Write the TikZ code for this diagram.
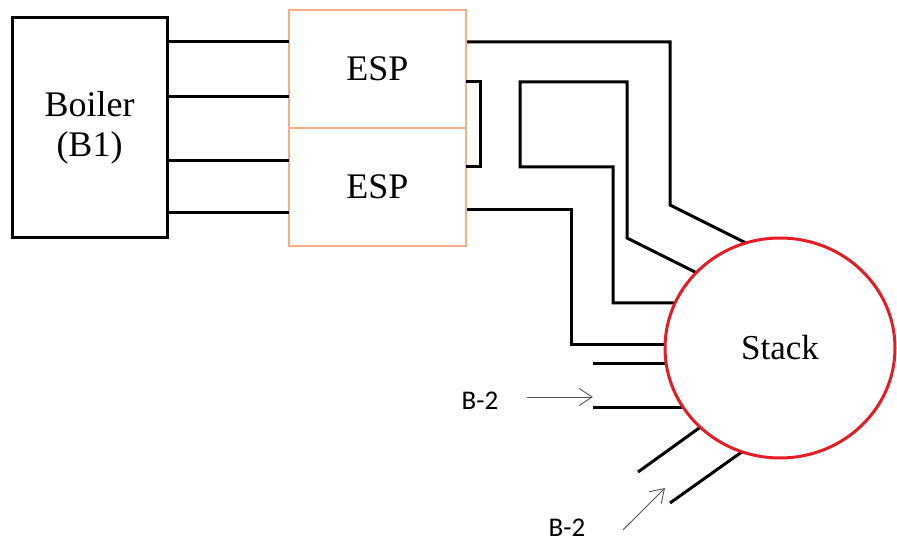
\documentclass[tikz,border=0pt]{standalone}
\usepackage{fontspec}
\setmainfont{Liberation Serif}
\newfontfamily\labelfont{Carlito}
\usepackage{tikz}
\usetikzlibrary{arrows.meta,positioning,shapes.geometric,backgrounds}
\definecolor{espOr}{RGB}{244,176,132}
\definecolor{stackR}{RGB}{228,28,36}
\definecolor{feedG}{RGB}{85,85,85}

\begin{document}
\begin{tikzpicture}[x=1pt, y=-1pt, font=\rmfamily\fontsize{36}{40}\selectfont,
    >={Straight Barb[length=13pt,width=17pt]},
    pipe/.style={line width=3pt},
    unitbox/.style={draw, rectangle, outer sep=0pt, align=center},
    feed/.style={->, feedG, line width=0.9pt},
    feedlbl/.style={font=\labelfont\fontsize{27}{30}\selectfont}]
  \useasboundingbox (0,0) rectangle (897,545);
  % boiler and the two precipitators
  \node[unitbox, line width=3pt, minimum width=155pt, minimum height=220pt] (boiler) at (89.5,128) {Boiler\\(B1)};
  \node[unitbox, draw=espOr, line width=2pt, minimum width=177pt, minimum height=118pt] (esp1) at (377.5,69) {ESP};
  \node[unitbox, draw=espOr, line width=2pt, minimum width=177pt, minimum height=118pt, below=0pt of esp1] (esp2) {ESP};
  % stack
  \node[ellipse, draw=stackR, line width=3pt, fill=white, inner sep=0pt,
        minimum width=230pt, minimum height=220pt, font=\rmfamily\fontsize{35}{40}\selectfont] (stack) at (780,348) {Stack};
  % inlet labels
  \node[feedlbl] (b2a) at (480,401) {B-2};
  \node[feedlbl] (b2b) at (567,528) {B-2};
  \coordinate (inA) at (593,397);
  \coordinate (inB) at (665,488);
  \draw[feed] ([xshift=25pt, yshift=4pt]b2a.east) -- (inA);
  \draw[feed] ([xshift=34pt, yshift=-2pt]b2b.east) -- (inB);
  % ducts
  \foreach \y in {42,97} \draw[pipe] (boiler.east |- 0,\y) -- (esp1.west |- 0,\y);
  \foreach \y in {161,213} \draw[pipe] (boiler.east |- 0,\y) -- (esp2.west |- 0,\y);
  \draw[pipe] (esp1.east |- 0,82) -| (480,167) -- (esp2.east |- 0,167);
  \begin{scope}[on background layer]
    \draw[pipe] (esp1.east |- 0,42) -| (670,205) -- (760,250);
    \draw[pipe] (717,283) -- (627,238) |- (520,82) |- (613,167) -- (613,303) -- (613,303 -| stack.center);
    \draw[pipe] (esp2.east |- 0,210) -| (571,345) -- (571,345 -| stack.center);
    \draw[pipe] (593,363) -- (593,363 -| stack.center);
    \draw[pipe] (593,407) -- (593,407 -| stack.center);
    \draw[pipe] (638,472) -- (720,413);
    \draw[pipe] (670,503) -- (760,439);
  \end{scope}
\end{tikzpicture}
\end{document}
